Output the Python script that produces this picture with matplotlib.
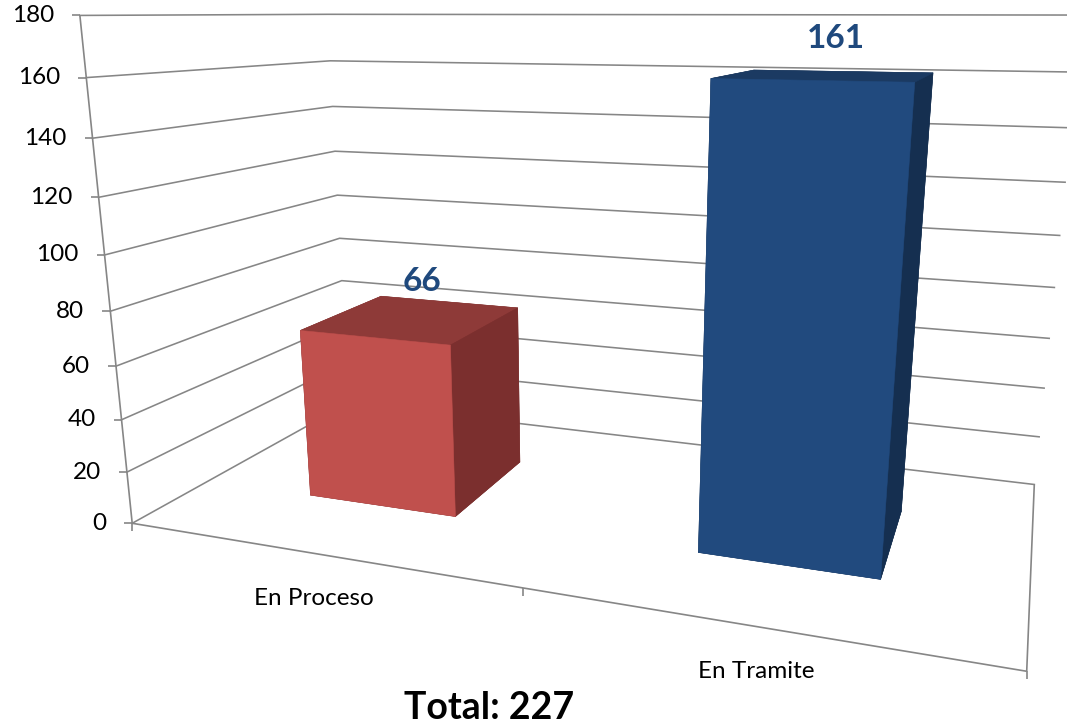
import numpy as np
import matplotlib
matplotlib.use("Agg")
import matplotlib.pyplot as plt
from matplotlib.transforms import offset_copy
from matplotlib.path import Path
from mpl_toolkits.mplot3d import proj3d

# ---------------- data ----------------
categories = ["En Proceso", "En Tramite"]
values = [66, 161]
value_ticks = [0, 20, 40, 60, 80, 100, 120, 140, 160, 180]
value_labels = [str(v) for v in value_ticks]
total_text = "Total: 227"

# ---------------- style ----------------
front_colors = ["#C0504D", "#214A7E"]
top_colors = ["#8E3A38", "#1B3A62"]
side_colors = ["#7B2F2E", "#152F50"]
label_color = "#1F497D"
grid_color = "#868686"

plt.rcParams["font.family"] = ["Lato", "DejaVu Sans"]

W_PX, H_PX, DPI = 1067, 725, 100
fig = plt.figure(figsize=(W_PX / DPI, H_PX / DPI), dpi=DPI)
fig.patch.set_facecolor("white")
ax = fig.add_axes([0, 0, 1, 1], projection="3d")
ax.set_facecolor("white")
ax.set_axis_off()
for axis in (ax.xaxis, ax.yaxis, ax.zaxis):
    axis.set_ticks([])
    axis.label.set_visible(False)
    axis.offsetText.set_visible(False)

n = len(categories)
depth = 2.5
zmax = value_ticks[-1]

# camera: Excel-like 3-D rotation (X 20 deg, Y 15 deg) with perspective;
# the camera looks at a point slightly below / in front of the box centre
target = (0.976, 1.10, 62.0)
ax.set_xlim(target[0] - n / 2, target[0] + n / 2)
ax.set_ylim(target[1] - depth / 2, target[1] + depth / 2)
ax.set_zlim(target[2] - zmax / 2, target[2] + zmax / 2)
ax.set_box_aspect((0.680, 0.338, 0.394))
ax.view_init(elev=15.3, azim=-70)
ax.set_proj_type("persp", focal_length=0.2206)

# ---------------- walls: gridlines ----------------
for v in value_ticks:
    ax.plot([0, 0, n], [0, depth, depth], [v, v, v], color=grid_color,
            linewidth=1.15, solid_joinstyle="miter")

# ---------------- bars ----------------
bar_w, bar_d = 0.4, 1.0
xs = np.arange(n) + 0.5 - bar_w / 2
ys = np.full(n, (depth - bar_d) / 2)
zs = np.zeros(n)
face_cols = []
for i in range(n):
    # face order: -z, +z, -y, +y, -x, +x
    face_cols += [side_colors[i], top_colors[i], front_colors[i],
                  side_colors[i], side_colors[i], side_colors[i]]
ax.bar3d(xs, ys, zs, bar_w, bar_d, values, color=face_cols, shade=False,
         edgecolor=face_cols, linewidth=0.4)

# ---------------- frame lines & ticks ----------------
frame_kw = dict(color=grid_color, linewidth=1.2, solid_capstyle="butt")
ax.plot([0, 0], [0, 0], [0, zmax], **frame_kw)
ax.plot([0, n], [0, 0], [0, 0], **frame_kw)
ax.plot([n, n], [0, depth], [0, 0], **frame_kw)

tick_down = Path([(0, 0), (0, -1)], [Path.MOVETO, Path.LINETO])
tick_left = Path([(0, 0), (-1, 0)], [Path.MOVETO, Path.LINETO])
cat_edges = np.arange(n + 1)
ax.plot(cat_edges, np.zeros(n + 1), np.zeros(n + 1), linestyle="none",
        marker=tick_down, markersize=11.5, markeredgewidth=1.2,
        markeredgecolor=grid_color, markerfacecolor="none")
ax.plot(np.zeros(len(value_ticks)), np.zeros(len(value_ticks)), value_ticks,
        linestyle="none", marker=tick_left, markersize=11.5,
        markeredgewidth=1.2, markeredgecolor=grid_color,
        markerfacecolor="none")

fig.text(489 / W_PX, 1 - 708 / H_PX, total_text, ha="center", va="center",
         fontsize=27, fontweight="bold", color="black")

# ---------------- place the 3D box like the reference ----------------
anchor_xyz = np.array([[0, 0, 0], [n, 0, 0], [0, 0, zmax], [n, depth, 0],
                       [0, depth, 0], [0, depth, zmax]], float)
anchor_px = np.array([[130, 522], [1023, 670], [77, 15], [1037, 483],
                      [342, 408], [340, 14]], float)

fig.canvas.draw()


def project2d(xv, yv, zv):
    px, py, _ = proj3d.proj_transform(np.asarray(xv, float),
                                      np.asarray(yv, float),
                                      np.asarray(zv, float), ax.get_proj())
    return np.atleast_1d(px), np.atleast_1d(py)


px, py = project2d(anchor_xyz[:, 0], anchor_xyz[:, 1], anchor_xyz[:, 2])
P = ax.transData.transform(np.column_stack([px, py]))
Q = np.column_stack([anchor_px[:, 0], H_PX - anchor_px[:, 1]])
pm, qm = P.mean(0), Q.mean(0)
s = np.sum((P - pm) * (Q - qm)) / np.sum((P - pm) ** 2)
t = qm - s * pm
bb = ax.get_position()
x0, y0 = bb.x0 * W_PX, bb.y0 * H_PX
ax.set_position([(s * x0 + t[0]) / W_PX, (s * y0 + t[1]) / H_PX,
                 s * bb.width, s * bb.height])

# ---------------- texts (placed at projected 3D anchor points) ----------------
def label_at(xv, yv, zv, txt, dx, dy, **kw):
    qx, qy = project2d([xv], [yv], [zv])
    ax.text2D(qx[0], qy[0], txt,
              transform=offset_copy(ax.transData, fig=fig, x=dx, y=dy,
                                    units="dots"), **kw)


for v, lab in zip(value_ticks, value_labels):
    label_at(0, 0, v, lab, -26, 0, ha="right", va="center", fontsize=17.5,
             color="black")

for i, c in enumerate(categories):
    label_at(i + 0.5, 0, 0, c, -2, -45, ha="center", va="center",
             fontsize=17.5, color="black")

for i, v in enumerate(values):
    label_at(i + 0.5, depth / 2, v, str(v), 9, 37, ha="center", va="center",
             fontsize=24, fontweight="bold", color=label_color)

fig.savefig("out.png", dpi=DPI, facecolor="white")
